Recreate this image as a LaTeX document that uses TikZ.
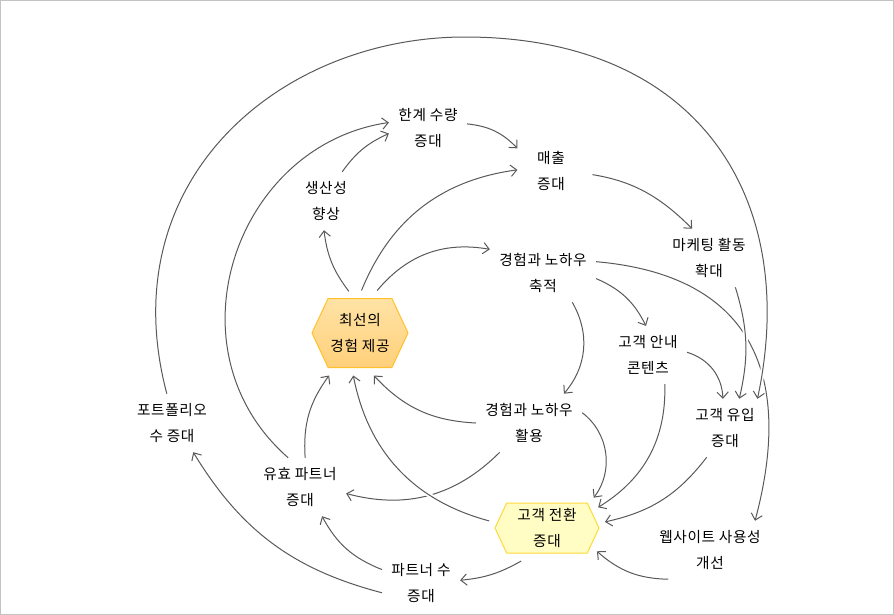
\documentclass[tikz,border=0pt]{standalone}
\usepackage{fontspec}
\newfontfamily\kr[LetterSpace=4]{Noto Sans CJK KR}
\usetikzlibrary{arrows.meta}
\usetikzlibrary{shapes.symbols}
\definecolor{linegray}{HTML}{595959}
\definecolor{framegray}{HTML}{C3C3C3}
\definecolor{bestline}{HTML}{FFC12B}
\definecolor{besttop}{HTML}{FFE3A6}
\definecolor{bestbot}{HTML}{FFD07A}
\definecolor{convline}{HTML}{FFD93A}
\definecolor{convfill}{HTML}{FFFDC4}
\tikzset{txt/.style = {align=center, inner sep=7pt,
                       font=\kr\fontsize{11}{19.5}\selectfont}}
\tikzset{
hexa/.style={signal, signal to=west and east, signal pointer angle=130,
    align=center, inner xsep=1pt, inner ysep=2pt, outer sep=6pt,
    line width=0.75pt, font=\kr\fontsize{11}{19.5}\selectfont},
flow/.style={draw=linegray, line width=0.75pt,
    -{Straight Barb[length=4.5pt,width=8.5pt]}},
hop/.style={preaction={draw=white, line width=3.5pt, -}},
}

\begin{document}
\begin{tikzpicture}[x=0.75pt, y=0.75pt]
        \useasboundingbox (0,0) rectangle (894,-615);
        \draw[framegray, line width=0.75pt] (0.5,-0.5) rectangle (893.5,-614.5);
        % nodes
        \node[txt] (capacity) at (428,-128) {한계 수량\\증대};
        \node[txt, minimum width=50pt] (sales) at (551,-171) {매출\\증대};
        \node[txt] (productivity) at (326,-201) {생산성\\향상};
        \node[txt] (knowhow) at (543,-273) {경험과 노하우\\축적};
        \node[txt] (marketing) at (709,-258) {마케팅 활동\\확대};
        \node[hexa, draw=bestline, top color=besttop, bottom color=bestbot,
              minimum width=72pt, minimum height=51.75pt] (bestexp) at (360,-333) {최선의\\경험 제공};
        \node[txt] (guide) at (648,-355) {고객 안내\\콘텐츠};
        \node[txt] (portfolio) at (172,-423) {포트폴리오\\수 증대};
        \node[txt] (useknow) at (529,-423) {경험과 노하우\\활용};
        \node[txt] (inflow) at (725,-428) {고객 유입\\증대};
        \node[txt] (partner) at (300,-487) {유효 파트너\\증대};
        \node[hexa, draw=convline, fill=convfill,
              minimum width=78pt, minimum height=37.5pt] (convert) at (547,-528) {고객 전환\\증대};
        \node[txt] (website) at (710,-550) {웹사이트 사용성\\개선};
        \node[txt] (partnernum) at (421,-583) {파트너 수\\증대};
        \coordinate (arctop) at (465,-37);
        % lines that get crossed
        \draw[flow] (knowhow.12) to[out=-5, in=75, looseness=1.3] (website.33);
        \draw[flow] (useknow.225) to[bend left=30] (partner.-8);
        % upper loop
        \draw[flow] (productivity.61) to[bend left=15] (capacity.188);
        \draw[flow] (partner.112) .. controls (165,-350) and (235,-145) .. (capacity.172);
        \draw[flow] (capacity.6) to[bend left=20] (sales.146);
        \draw[flow] (bestexp.88) to[bend left=30] (sales.178);
        \draw[flow] (bestexp.105) to[bend left=15] (productivity.266);
        \draw[flow] (bestexp.68) to[bend left=30] (knowhow.156);
        \draw[flow, shorten <=6pt] (sales.-4) to[bend left=18] (marketing.120);
        \draw[flow] (knowhow.-6) to[bend left=20] (guide.94);
        \draw[flow] (knowhow.-45) to[bend left=35] (useknow.40);
        \draw[flow, hop] (marketing.-48) to[bend left=15] (inflow.64);
        \draw[flow] (guide.4) to[bend left=35] (inflow.94);
        \draw[flow, hop] (portfolio.100) .. controls (110,-180) and (280,-37) .. (arctop)
              .. controls (700,-37) and (800,-200) .. (inflow.42);
        % lower loop
        \draw[flow] (partner.80) to[bend left=20] (bestexp.234);
        \draw[flow] (useknow.180) to[bend left=22] (bestexp.288);
        \draw[flow, hop] (convert.173) to[bend left=32] (bestexp.261);
        \draw[flow] (useknow.11) to[bend left=45] (convert.33);
        \draw[flow] (guide.-60) to[bend left=30] (convert.22);
        \draw[flow] (inflow.238) to[bend left=20] (convert.6);
        \draw[flow] (website.215) to[bend left=20] (convert.-25);
        \draw[flow] (convert.232) to[bend left=12] (partnernum.4);
        \draw[flow] (partnernum.161) to[bend left=20] (partner.307);
        \draw[flow] (partnernum.194) to[bend left=22] (portfolio.306);
    \end{tikzpicture}
\end{document}
